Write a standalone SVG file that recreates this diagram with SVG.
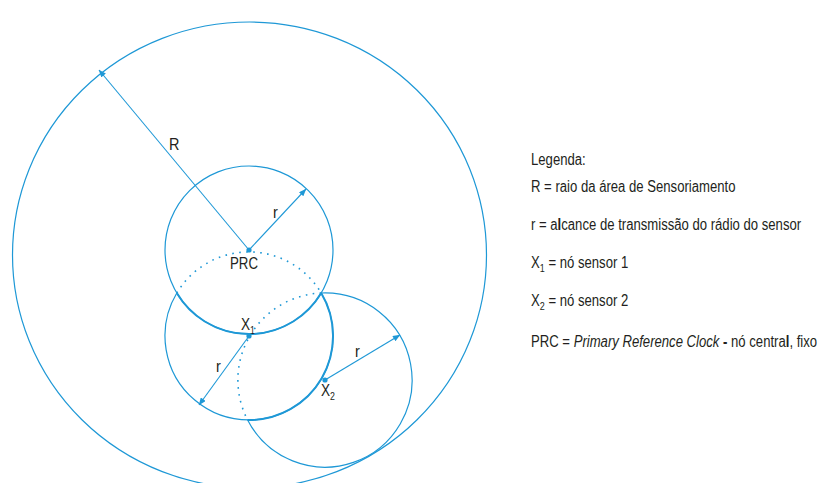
<svg xmlns="http://www.w3.org/2000/svg" width="821" height="483" viewBox="0 0 821 483">
  <style>
    .ln { fill: none; stroke: #1e98d6; stroke-width: 1.2; }
    .thk { fill: none; stroke: #1e98d6; stroke-width: 2; }
    .dot { fill: none; stroke: #1e98d6; stroke-width: 1.6; stroke-dasharray: 1.6 5.4; }
    .arr { fill: none; stroke: #1e98d6; stroke-width: 1.1; marker-end: url(#tip); }
    .pt { fill: #1e98d6; }
    .lbl { font-family: "Liberation Sans", Arial, sans-serif; font-size: 17px; fill: #231f20; }
    .leg { font-family: "Liberation Sans", Arial, sans-serif; font-size: 16px; fill: #231f20; }
    .sub { font-size: 11px; }
  </style>
  <defs>
    <marker id="tip" viewBox="0 0 10 8" refX="9.5" refY="4" markerWidth="8" markerHeight="6" markerUnits="userSpaceOnUse" orient="auto">
      <path d="M0,0 L10,4 L0,8 Z" fill="#1e98d6"/>
    </marker>
  </defs>
  <rect width="821" height="483" fill="#ffffff"/>

  <!-- sensing area of radius R -->
  <g id="area">
    <ellipse class="ln" cx="249.5" cy="255" rx="237" ry="233"/>
  </g>

  <!-- PRC range circle -->
  <g id="prc">
    <circle class="ln" cx="249" cy="250" r="84"/>
    <path class="thk" d="M176.8,293 A84,84 0 0 0 321.2,293"/>
    <circle class="pt" cx="249" cy="250" r="2.6"/>
    <text class="lbl" transform="translate(230,269) scale(0.78,1)">PRC</text>
  </g>

  <!-- sensor X1 range circle -->
  <g id="x1">
    <path class="dot" d="M176.8,293 A84,84 0 0 1 321.2,293"/>
    <path class="ln" d="M321.2,293 A84,84 0 1 1 176.8,293"/>
    <path class="thk" d="M321.2,293 A84,84 0 0 1 247.6,420"/>
    <circle class="pt" cx="249" cy="336" r="2.6"/>
    <text class="lbl" transform="translate(241,330) scale(0.8,1)">X<tspan class="sub" dy="4">1</tspan></text>
  </g>

  <!-- sensor X2 range circle -->
  <g id="x2">
    <path class="dot" d="M321.2,293 A87.1,87.1 0 0 0 247.6,420"/>
    <path class="ln" d="M321.2,293 A87.1,87.1 0 1 1 247.6,420"/>
    <circle class="pt" cx="325" cy="380" r="2.6"/>
    <text class="lbl" transform="translate(321,396) scale(0.8,1)">X<tspan class="sub" dy="4">2</tspan></text>
  </g>

  <!-- radius arrows -->
  <g id="connectors">
    <line class="arr" x1="249" y1="250" x2="99" y2="70"/>
    <line class="arr" x1="249" y1="250" x2="306" y2="189"/>
    <line class="arr" x1="249" y1="336" x2="199" y2="405"/>
    <line class="arr" x1="325" y1="380" x2="400" y2="335"/>
  </g>
  <g id="radius-labels">
    <text class="lbl" transform="translate(169,150) scale(0.85,1)">R</text>
    <text class="lbl" transform="translate(273,218) scale(0.85,1)">r</text>
    <text class="lbl" transform="translate(216,372) scale(0.85,1)">r</text>
    <text class="lbl" transform="translate(355,357) scale(0.85,1)">r</text>
  </g>

  <!-- legend -->
  <g id="legend">
    <text class="leg" transform="translate(531,165) scale(0.82,1)">Legenda:</text>
    <text class="leg" transform="translate(531,192) scale(0.82,1)">R = raio da área de Sensoriamento</text>
    <text class="leg" transform="translate(531,230) scale(0.82,1)">r = a<tspan font-weight="bold">l</tspan>cance de transmissão do rádio do sensor</text>
    <text class="leg" transform="translate(531,268) scale(0.82,1)">X<tspan class="sub" dy="4">1</tspan><tspan dy="-4"> = nó sensor 1</tspan></text>
    <text class="leg" transform="translate(531,306) scale(0.82,1)">X<tspan class="sub" dy="4">2</tspan><tspan dy="-4"> = nó sensor 2</tspan></text>
    <text class="leg" transform="translate(531,347) scale(0.82,1)">PRC = <tspan font-style="italic">Primary Reference Clock</tspan> <tspan font-weight="bold">-</tspan> nó centra<tspan font-weight="bold">l</tspan>, fixo</text>
  </g>
</svg>
